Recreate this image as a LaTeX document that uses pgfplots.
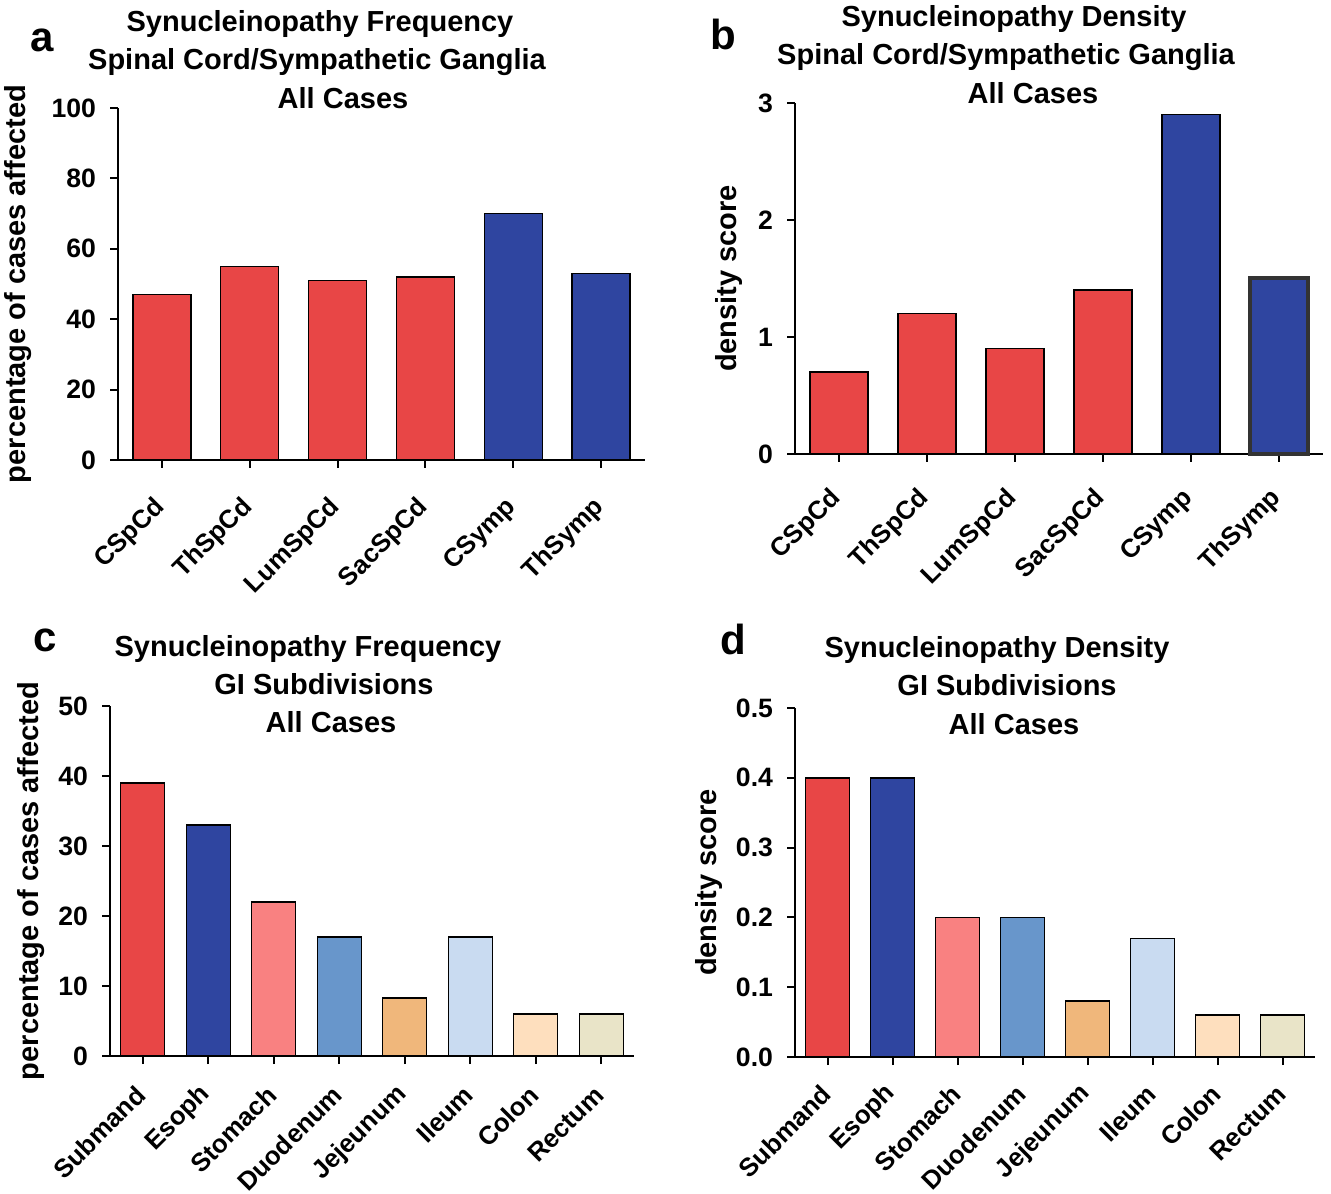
\documentclass[border=0pt]{standalone}
\usepackage{fontspec}
\setmainfont{Liberation Sans}
\usepackage{pgfplots}
\pgfplotsset{compat=1.18}
\definecolor{cred}{HTML}{E84646}
\definecolor{cblue}{HTML}{2F45A0}
\definecolor{csalmon}{HTML}{F98181}
\definecolor{csteel}{HTML}{6896CB}
\definecolor{corange}{HTML}{F0B77B}
\definecolor{clblue}{HTML}{C9DBF1}
\definecolor{cpeach}{HTML}{FEDFBE}
\definecolor{cbeige}{HTML}{E9E4C8}
\newcommand\tf{\fontsize{14.5}{17}\selectfont\bfseries}
\newcommand\yf{\fontsize{13.3}{16}\selectfont\bfseries}
\newcommand\xf{\fontsize{12.9}{15}\selectfont\bfseries}
\newcommand\lf{\fontsize{21}{24}\selectfont\bfseries}
\pgfplotsset{panel/.style={
  scale only axis,
  axis x line*=bottom, axis y line*=left,
  axis line style={-, line width=1pt},
  tick align=outside,
  major tick length=4pt,
  tick style={black, line width=1pt},
  ybar, bar shift=0pt,
  ymin=0,
  enlargelimits=false,
  clip=false,
  yticklabel style={font=\yf, xshift=-3.5pt},
  xticklabel style={font=\xf, rotate=45, anchor=east},
  ylabel style={font=\tf},
  /pgf/number format/assume math mode=true,
  every axis plot/.append style={draw=black, line width=0.7pt},
}}
\begin{document}
\begin{tikzpicture}
\useasboundingbox (0,0) rectangle (665.5pt,596.5pt);
% panel a
\begin{axis}[panel, at={(59pt,366.5pt)}, anchor=south west,
  width=263.5pt, height=176pt, bar width=29pt,
  xmin=-0.5, xmax=5.5, ymax=100, ytick={0,20,...,100},
  xtick={0,...,5}, xticklabels={CSpCd,ThSpCd,LumSpCd,SacSpCd,CSymp,ThSymp},
  xticklabel style={xshift=-9.4pt, yshift=-12.1pt},
  ylabel={percentage of cases affected}, ylabel shift=3pt]
\addplot[fill=cred] coordinates {(0,47) (1,55) (2,51) (3,52)};
\addplot[fill=cblue] coordinates {(4,70) (5,53)};
\end{axis}
% panel b
\begin{axis}[panel, at={(397.5pt,369.5pt)}, anchor=south west,
  width=264pt, height=175.5pt, bar width=29pt,
  xmin=-0.5, xmax=5.5, ymax=3, ytick={0,1,2,3},
  xtick={0,...,5}, xticklabels={CSpCd,ThSpCd,LumSpCd,SacSpCd,CSymp,ThSymp},
  xticklabel style={xshift=-8.7pt, yshift=-10.7pt},
  ylabel={density score}, ylabel shift=1pt]
\addplot[fill=cred] coordinates {(0,0.7) (1,1.2) (2,0.9) (3,1.4)};
\addplot[fill=cblue] coordinates {(4,2.9)};
\addplot[fill=cblue, draw=black!80, line width=2pt] coordinates {(5,1.5)};
\end{axis}
% panel c
\begin{axis}[panel, at={(55pt,68.5pt)}, anchor=south west,
  width=262pt, height=175pt, bar width=22pt,
  xmin=-0.5, xmax=7.5, ymax=50, ytick={0,10,...,50},
  xtick={0,...,7}, xticklabels={Submand,Esoph,Stomach,Duodenum,Jejeunum,Ileum,Colon,Rectum},
  xticklabel style={xshift=-6.65pt, yshift=-8.7pt},
  ylabel={percentage of cases affected}]
\addplot[fill=cred] coordinates {(0,39)};
\addplot[fill=cblue] coordinates {(1,33)};
\addplot[fill=csalmon] coordinates {(2,22)};
\addplot[fill=csteel] coordinates {(3,17)};
\addplot[fill=corange] coordinates {(4,8.3)};
\addplot[fill=clblue] coordinates {(5,17)};
\addplot[fill=cpeach] coordinates {(6,6)};
\addplot[fill=cbeige] coordinates {(7,6)};
\end{axis}
% panel d
\begin{axis}[panel, at={(397.5pt,68pt)}, anchor=south west,
  width=260pt, height=174.5pt, bar width=22pt,
  xmin=-0.5, xmax=7.5, ymax=0.5, ytick={0,0.1,...,0.5},
  yticklabel style={/pgf/number format/.cd, fixed, fixed zerofill, precision=1},
  xtick={0,...,7}, xticklabels={Submand,Esoph,Stomach,Duodenum,Jejeunum,Ileum,Colon,Rectum},
  xticklabel style={xshift=-5.6pt, yshift=-8.35pt},
  ylabel={density score}]
\addplot[fill=cred] coordinates {(0,0.4)};
\addplot[fill=cblue] coordinates {(1,0.4)};
\addplot[fill=csalmon] coordinates {(2,0.2)};
\addplot[fill=csteel] coordinates {(3,0.2)};
\addplot[fill=corange] coordinates {(4,0.08)};
\addplot[fill=clblue] coordinates {(5,0.17)};
\addplot[fill=cpeach] coordinates {(6,0.06)};
\addplot[fill=cbeige] coordinates {(7,0.06)};
\end{axis}
% titles
\node[font=\tf, anchor=base] at (160pt,580.5pt) {Synucleinopathy Frequency};
\node[font=\tf, anchor=base] at (158.5pt,561.5pt) {Spinal Cord/Sympathetic Ganglia};
\node[font=\tf, anchor=base] at (171.5pt,542pt) {All Cases};
\node[font=\tf, anchor=base] at (507pt,583pt) {Synucleinopathy Density};
\node[font=\tf, anchor=base] at (503pt,564pt) {Spinal Cord/Sympathetic Ganglia};
\node[font=\tf, anchor=base] at (516.5pt,544.5pt) {All Cases};
\node[font=\tf, anchor=base] at (154pt,268pt) {Synucleinopathy Frequency};
\node[font=\tf, anchor=base] at (162pt,249pt) {GI Subdivisions};
\node[font=\tf, anchor=base] at (165.5pt,230pt) {All Cases};
\node[font=\tf, anchor=base] at (498.5pt,267.5pt) {Synucleinopathy Density};
\node[font=\tf, anchor=base] at (503.5pt,248.5pt) {GI Subdivisions};
\node[font=\tf, anchor=base] at (507pt,229pt) {All Cases};
% panel letters
\node[font=\lf, anchor=base west, inner sep=0pt] at (15pt,570.5pt) {a};
\node[font=\lf, anchor=base west, inner sep=0pt] at (355pt,571.5pt) {b};
\node[font=\lf, anchor=base west, inner sep=0pt] at (16.5pt,270.5pt) {c};
\node[font=\lf, anchor=base west, inner sep=0pt] at (360pt,269pt) {d};
\end{tikzpicture}
\end{document}
